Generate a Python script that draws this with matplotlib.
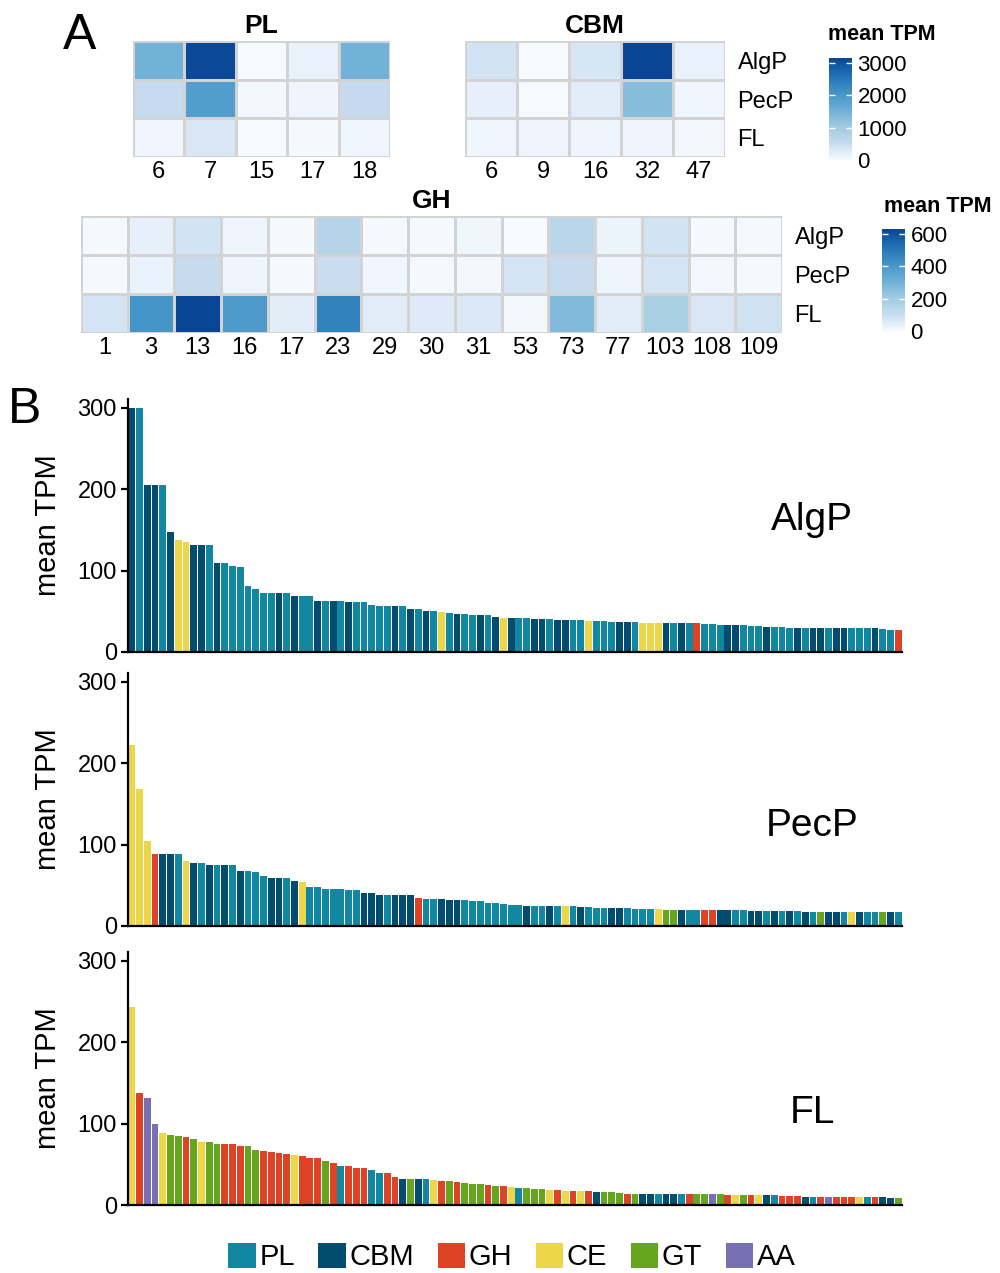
import numpy as np
import matplotlib
matplotlib.use('Agg')
import matplotlib.pyplot as plt
from matplotlib.colors import LinearSegmentedColormap
from matplotlib.patches import Patch

plt.rcParams['font.family'] = ['Liberation Sans', 'DejaVu Sans']

# ---- panel A data (mean TPM per family) ----
pl_families = ['6', '7', '15', '17', '18']
pl_algp = [1500, 3100, 20, 150, 1500]
pl_pecp = [530, 1900, 50, 100, 550]
pl_fl = [80, 330, 20, 40, 80]

cbm_families = ['6', '9', '16', '32', '47']
cbm_algp = [400, 20, 350, 3150, 150]
cbm_pecp = [180, 15, 250, 1300, 80]
cbm_fl = [80, 100, 100, 110, 70]

gh_families = ['1', '3', '13', '16', '17', '23', '29', '30', '31', '53', '73', '77', '103', '108', '109']
gh_algp = [8, 35, 80, 20, 5, 150, 5, 5, 18, 2, 140, 25, 80, 5, 6]
gh_pecp = [5, 28, 105, 22, 5, 100, 17, 5, 10, 75, 105, 22, 75, 10, 8]
gh_fl = [75, 410, 630, 390, 45, 470, 50, 55, 60, 12, 270, 50, 180, 65, 85]

conditions = ['AlgP', 'PecP', 'FL']

# ---- panel B data (top 100 genes per condition) ----
algp_tpm = [300, 300, 205, 205, 205, 147, 138, 135, 132, 132, 132, 109, 109, 106, 104, 81, 78, 73, 73, 72,
            72, 69, 69, 69, 63, 63, 63, 63, 62, 62, 62, 58, 57, 56, 56, 56, 53, 53, 51, 51,
            49, 48, 47, 47, 46, 46, 46, 43, 42, 42, 42, 42, 41, 41, 41, 39.5, 39.5, 39.5, 39.5, 38,
            38, 38, 37, 37, 37, 37, 36, 36, 36, 36, 36, 36, 36, 36, 34.6, 34.6, 33, 33, 33, 33,
            32, 32, 31, 31, 31, 29.6, 29.6, 29.6, 29.6, 29.6, 29.6, 29.6, 29.6, 29.6, 29.6, 29.6, 29.6, 28.4, 27, 27]
algp_class = ['CBM', 'PL', 'CBM', 'CBM', 'PL', 'CBM', 'CE', 'CE', 'CBM', 'CBM', 'PL', 'CBM', 'PL', 'PL', 'PL', 'PL', 'PL', 'PL', 'PL', 'CBM',
              'PL', 'CBM', 'PL', 'PL', 'CBM', 'PL', 'CBM', 'PL', 'CBM', 'PL', 'PL', 'PL', 'PL', 'PL', 'CBM', 'PL', 'CBM', 'PL', 'CBM', 'PL',
              'CE', 'PL', 'CBM', 'PL', 'PL', 'CBM', 'PL', 'CBM', 'CE', 'CBM', 'PL', 'PL', 'CBM', 'CBM', 'PL', 'CBM', 'CBM', 'PL', 'PL', 'CE',
              'PL', 'PL', 'PL', 'CBM', 'CBM', 'PL', 'CE', 'CE', 'CE', 'CBM', 'PL', 'CBM', 'PL', 'GH', 'PL', 'PL', 'PL', 'CBM', 'CBM', 'PL',
              'PL', 'PL', 'CBM', 'PL', 'PL', 'PL', 'CBM', 'PL', 'CBM', 'CBM', 'PL', 'CBM', 'CBM', 'PL', 'PL', 'PL', 'CBM', 'PL', 'PL', 'GH']

pecp_tpm = [223, 168, 104, 88, 88, 88, 88, 80.5, 77, 77, 74.4, 74.4, 74.4, 74.4, 68, 68, 66, 61, 58.5, 58.5,
            58.5, 55, 53.6, 47.4, 47.4, 46, 45, 45, 43.8, 43.8, 40, 40, 37.6, 37.6, 37.6, 37.6, 37.6, 34, 32.7, 32.7,
            32.7, 31.5, 31.5, 31.5, 30.3, 30.3, 27.8, 27.8, 26.6, 26.3, 26.3, 25, 25, 25, 25, 25, 25, 25, 23.7, 23.7,
            22.5, 22.5, 22.5, 22.5, 22.5, 21.3, 21.3, 21.3, 21.3, 20, 20, 20, 20, 20, 20, 20, 20, 20, 20, 20,
            18.8, 18.8, 18.8, 18.8, 18.8, 18.8, 18.8, 17.6, 17.6, 17.6, 17.6, 17.6, 17.6, 17.6, 17.6, 17.6, 17.6, 17.6, 17.6, 17.6]
pecp_class = ['CE', 'CE', 'CE', 'GH', 'CBM', 'CBM', 'PL', 'CE', 'CBM', 'PL', 'CBM', 'PL', 'CBM', 'PL', 'CBM', 'PL', 'PL', 'PL', 'CBM', 'CBM',
              'PL', 'CBM', 'CE', 'PL', 'PL', 'PL', 'PL', 'PL', 'PL', 'PL', 'CBM', 'CBM', 'CBM', 'PL', 'CBM', 'CBM', 'CBM', 'GH', 'PL', 'PL',
              'CBM', 'CBM', 'CBM', 'PL', 'PL', 'PL', 'PL', 'PL', 'PL', 'PL', 'PL', 'CBM', 'PL', 'PL', 'CBM', 'PL', 'CE', 'PL', 'CBM', 'PL',
              'PL', 'PL', 'CBM', 'CBM', 'PL', 'PL', 'PL', 'PL', 'CE', 'GT', 'GT', 'CBM', 'PL', 'PL', 'GH', 'GH', 'CBM', 'CBM', 'PL', 'PL',
              'CBM', 'CBM', 'PL', 'CBM', 'PL', 'CBM', 'PL', 'CBM', 'PL', 'GT', 'CBM', 'CBM', 'PL', 'CE', 'CBM', 'PL', 'PL', 'GT', 'CBM', 'PL']

fl_tpm = [243, 138, 132, 99, 89, 86, 85, 84, 81.5, 78, 78, 75, 75, 75, 73, 73, 68, 66.7, 65.4, 64,
          63, 61.7, 60.5, 58, 58, 54, 52, 48, 48, 45.7, 45.7, 43, 39.5, 39.5, 34.6, 32, 32, 32, 32, 30.9,
          29.6, 29.6, 28.4, 27, 26, 26, 24.7, 23.5, 23.5, 22, 21, 21, 19.8, 19.8, 18.5, 18.5, 17.3, 17.3, 17.3, 17.3,
          16, 16, 16, 14.8, 13.6, 13.6, 13.6, 13.6, 13.6, 13.6, 13.6, 13.6, 13.6, 13.6, 13.6, 13.6, 13.6, 12.3, 12.3, 12.3,
          12.3, 12.3, 12.3, 12.3, 11.1, 11.1, 11.1, 9.9, 9.9, 9.9, 9.9, 9.9, 9.9, 9.9, 9.9, 9.9, 9.9, 9.9, 8.6, 8.6]
fl_class = ['CE', 'GH', 'AA', 'AA', 'CE', 'GT', 'GT', 'GH', 'GT', 'CE', 'GT', 'GT', 'GH', 'GH', 'GH', 'GT', 'GT', 'GH', 'GH', 'GH',
            'GH', 'CE', 'GH', 'GH', 'GH', 'GT', 'GH', 'PL', 'GH', 'GH', 'GH', 'PL', 'PL', 'GH', 'GH', 'CBM', 'GT', 'CBM', 'PL', 'CE',
            'GH', 'GT', 'GH', 'GT', 'GT', 'GT', 'GH', 'GT', 'GH', 'CE', 'PL', 'GT', 'GT', 'GT', 'CE', 'GH', 'CE', 'GH', 'CE', 'GH',
            'CBM', 'GT', 'GT', 'GT', 'GH', 'GT', 'CBM', 'CBM', 'PL', 'CBM', 'CBM', 'PL', 'GH', 'GT', 'GT', 'AA', 'GT', 'GH', 'CE', 'GT',
            'GH', 'CE', 'CBM', 'PL', 'GH', 'GH', 'GH', 'CBM', 'PL', 'GH', 'AA', 'GH', 'GH', 'GH', 'CE', 'PL', 'GH', 'CBM', 'CBM', 'GT']

class_names = ['PL', 'CBM', 'GH', 'CE', 'GT', 'AA']
class_colors = {'PL': '#1187A2', 'CBM': '#024C70', 'GH': '#DE4325',
                'CE': '#ECD748', 'GT': '#66A61E', 'AA': '#7770B2'}

W, H = 1000, 1273


def rect(l, t, r, b):
    # pixel box -> figure fraction
    return [l / W, 1 - b / H, (r - l) / W, (b - t) / H]


blues = LinearSegmentedColormap.from_list(
    'blues7', ['#F7FBFF', '#C6DBEF', '#9ECAE1', '#6BAED6', '#4292C6', '#2171B5', '#084594'])

fig = plt.figure(figsize=(W / 100, H / 100), dpi=100)


def heatmap(box, families, rows, title, vmax, show_rows):
    ax = fig.add_axes(rect(*box))
    data = np.array(rows)
    mesh = ax.pcolormesh(data, cmap=blues, vmin=0, vmax=vmax,
                         edgecolors='#D3D3D3', linewidth=0.9)
    ax.set_xlim(0, len(families))
    ax.set_ylim(len(rows), 0)
    ax.set_xticks(np.arange(len(families)) + 0.5)
    ax.set_xticklabels(families, fontsize=17)
    ax.set_yticks(np.arange(len(rows)) + 0.5)
    ax.set_yticklabels(conditions if show_rows else [], fontsize=17)
    ax.tick_params(length=0, pad=3)
    ax.yaxis.tick_right()
    ax.tick_params(axis='y', pad=9)
    for s in ax.spines.values():
        s.set_visible(False)
    ax.set_title(title, fontsize=19, fontweight='bold', pad=6)
    return mesh


def colorbar(mesh, box, ticks, title_xy):
    cax = fig.add_axes(rect(*box))
    cb = fig.colorbar(mesh, cax=cax, ticks=ticks)
    cb.outline.set_visible(False)
    cax.tick_params(axis='y', which='both', direction='in', color='white', length=4,
                    width=1, left=True, right=True, labelsize=16, pad=4)
    fig.text(title_xy[0] / W, 1 - title_xy[1] / H, 'mean TPM', fontsize=15.5,
             fontweight='bold', ha='center', va='center')


m1 = heatmap((133, 41, 390, 157), pl_families, [pl_algp, pl_pecp, pl_fl], 'PL', 3150, False)
m2 = heatmap((465, 41, 725, 157), cbm_families, [cbm_algp, cbm_pecp, cbm_fl], 'CBM', 3150, True)
m3 = heatmap((81, 216, 782, 333), gh_families, [gh_algp, gh_pecp, gh_fl], 'GH', 630, True)

colorbar(m2, (829, 58, 852, 160), [0, 1000, 2000, 3000], (882, 35))
colorbar(m3, (882, 229, 905, 331), [0, 200, 400, 600], (938, 206))

fig.text(80 / W, 1 - 36 / H, 'A', fontsize=36, ha='center', va='center')
fig.text(25 / W, 1 - 410 / H, 'B', fontsize=36, ha='center', va='center')

# ---- panel B bars ----
panels = [(algp_tpm, algp_class, 'AlgP', (128, 399, 902, 652), 520),
          (pecp_tpm, pecp_class, 'PecP', (128, 673, 902, 926), 826),
          (fl_tpm, fl_class, 'FL', (128, 952, 902, 1205), 1113)]

for tpm, cls, name, box, label_y in panels:
    ax = fig.add_axes(rect(*box))
    x = np.arange(1, len(tpm) + 1)
    ax.bar(x, tpm, width=0.88, color=[class_colors[c] for c in cls], linewidth=0)
    ax.set_xlim(0.5, len(tpm) + 0.5)
    ax.set_ylim(0, 311)
    ax.set_yticks([0, 100, 200, 300])
    ax.set_xticks([])
    ax.tick_params(axis='y', labelsize=17, length=5, width=1.6, pad=3)
    for s in ['top', 'right']:
        ax.spines[s].set_visible(False)
    for s in ['left', 'bottom']:
        ax.spines[s].set_linewidth(1.6)
    ax.set_ylabel('mean TPM', fontsize=21)
    ax.yaxis.set_label_coords(-0.085, 0.5)
    fig.text(812 / W, 1 - label_y / H, name, fontsize=28, ha='center', va='center')

handles = [Patch(facecolor=class_colors[c], label=c) for c in class_names]
fig.legend(handles=handles, loc='center', ncol=6, frameon=False, fontsize=21,
           bbox_to_anchor=(512 / W, 1 - 1257 / H), handlelength=0.95, handleheight=0.95,
           handletextpad=0.12, columnspacing=0.8)

fig.savefig('out.png', dpi=100)
